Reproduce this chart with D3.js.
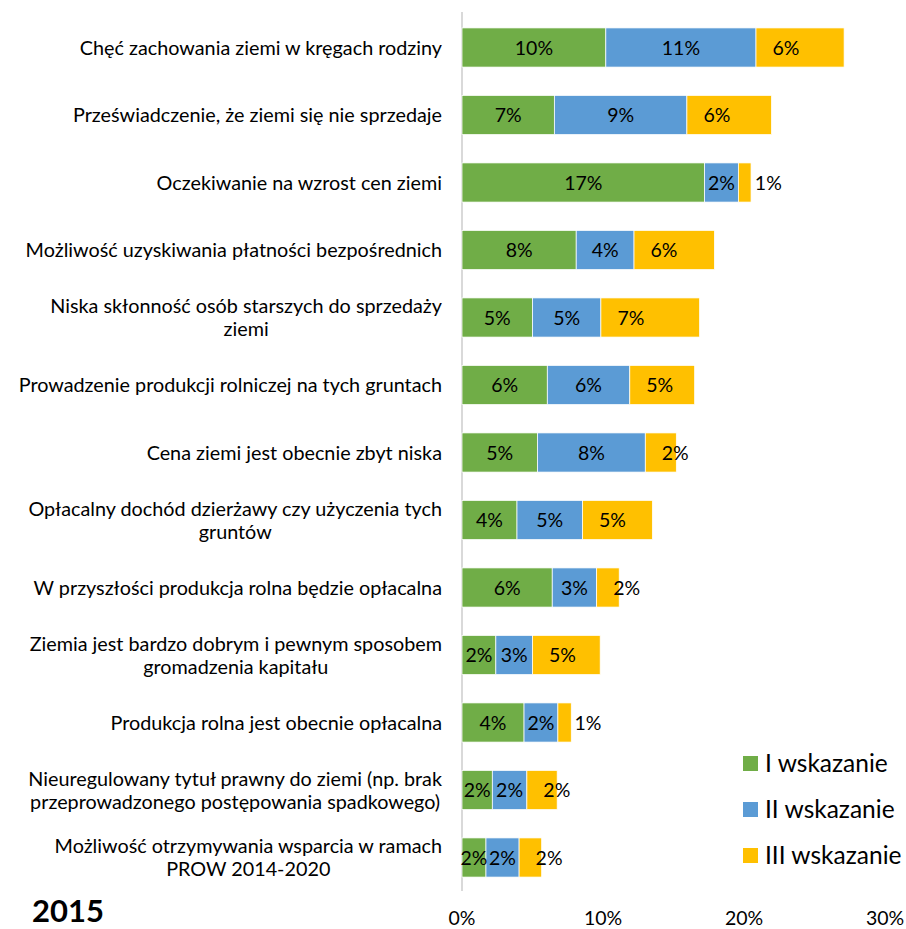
<!DOCTYPE html>
<html><head><meta charset="utf-8">
<script src="https://cdn.jsdelivr.net/npm/d3@7"></script>
<style>body{margin:0;background:#fff;} text{font-family:Lato,"Open Sans",sans-serif;}</style>
</head><body>
<svg id="c" width="906" height="929"></svg>
<script>
const categories = [
  ["Chęć zachowania ziemi w kręgach rodziny"],
  ["Przeświadczenie, że ziemi się nie sprzedaje"],
  ["Oczekiwanie na wzrost cen ziemi"],
  ["Możliwość uzyskiwania płatności bezpośrednich"],
  ["Niska skłonność osób starszych do sprzedaży", "ziemi"],
  ["Prowadzenie produkcji rolniczej na tych gruntach"],
  ["Cena ziemi jest obecnie zbyt niska"],
  ["Opłacalny dochód dzierżawy czy użyczenia tych", "gruntów"],
  ["W przyszłości produkcja rolna będzie opłacalna"],
  ["Ziemia jest bardzo dobrym i pewnym sposobem", "gromadzenia kapitału"],
  ["Produkcja rolna jest obecnie opłacalna"],
  ["Nieuregulowany tytuł prawny do ziemi (np. brak", "przeprowadzonego postępowania spadkowego)"],
  ["Możliwość otrzymywania wsparcia w ramach", "PROW 2014-2020"]
];
const seriesNames = ["I wskazanie", "II wskazanie", "III wskazanie"];
const wskazanie1 = [10.2, 6.55, 17.2, 8.1, 5.0, 6.05, 5.35, 3.9, 6.4, 2.4, 4.4, 2.15, 1.7];
const wskazanie2 = [10.65, 9.4, 2.4, 4.1, 4.85, 5.85, 7.65, 4.65, 3.15, 2.6, 2.4, 2.45, 2.35];
const wskazanie3 = [6.25, 6.0, 0.9, 5.7, 7.0, 4.6, 2.2, 4.95, 1.6, 4.8, 0.95, 2.15, 1.6];
const xTicks = [0, 10, 20, 30];
const colors = ["#70ad47", "#5b9bd5", "#ffc000"];

const svg = d3.select("#c");
const x = d3.scaleLinear().domain([0, 30]).range([462, 885]);
const y = d3.scaleBand().domain(d3.range(categories.length)).range([13.75, 891.25]).paddingInner(0.42).paddingOuter(0.21);

const rows = categories.map((c, i) => ({i, vals: [wskazanie1[i], wskazanie2[i], wskazanie3[i]]}));
const segs = [];
rows.forEach(r => {
  let acc = 0;
  r.vals.forEach((v, k) => { segs.push({i: r.i, k, x0: acc, x1: acc + v, v}); acc += v; });
});

// axis line
svg.append("line").attr("x1", x(0)).attr("x2", x(0)).attr("y1", 12).attr("y2", 891)
  .attr("stroke", "#d9d9d9").attr("stroke-width", 2);

svg.append("g").selectAll("rect").data(segs).join("rect")
  .attr("x", d => x(d.x0)).attr("width", d => x(d.x1) - x(d.x0))
  .attr("y", d => y(d.i)).attr("height", y.bandwidth())
  .attr("fill", d => colors[d.k]).attr("stroke", "#fff").attr("stroke-width", 0.75);

// data labels
svg.append("g").selectAll("text").data(segs).join("text")
  .attr("x", d => d.k === 2 ? x(d.x0) + 16.5 : (x(d.x0) + x(d.x1)) / 2)
  .attr("text-anchor", d => d.k === 2 ? "start" : "middle")
  .attr("y", d => y(d.i) + y.bandwidth() / 2)
  .attr("dy", "0.36em").attr("font-size", 19.5).attr("fill", "#000")
  .text(d => Math.round(d.v) + "%");

// category labels
const lab = svg.append("g");
categories.forEach((lines, i) => {
  const cy = y(i) + y.bandwidth() / 2;
  const lh = 23;
  const t = lab.append("text").attr("font-size", 19.8).attr("fill", "#000");
  lines.forEach((ln, j) => {
    t.append("tspan").attr("y", cy + (j - (lines.length - 1) / 2) * lh).attr("dy", "0.36em").text(ln);
  });
  let maxW = 0;
  t.selectAll("tspan").each(function(){ maxW = Math.max(maxW, this.getComputedTextLength()); });
  t.attr("text-anchor", "middle").selectAll("tspan").attr("x", 442 - maxW / 2);
});

// x tick labels
svg.append("g").selectAll("text").data(xTicks).join("text")
  .attr("x", d => x(d)).attr("y", 925).attr("text-anchor", "middle")
  .attr("font-size", 19.5).attr("fill", "#000").text(d => d + "%");

// legend
const lg = svg.append("g");
seriesNames.forEach((n, k) => {
  const cy = 763.5 + k * 46;
  lg.append("rect").attr("x", 743).attr("y", cy - 7.5).attr("width", 15).attr("height", 15).attr("fill", colors[k]);
  lg.append("text").attr("x", 765).attr("y", cy).attr("dy", "0.36em").attr("font-size", 24.5).attr("fill", "#000").text(n);
});

svg.append("text").attr("x", 32).attr("y", 922).attr("font-size", 31).attr("font-weight", "bold").attr("fill", "#000").text("2015");
</script>
</body></html>
